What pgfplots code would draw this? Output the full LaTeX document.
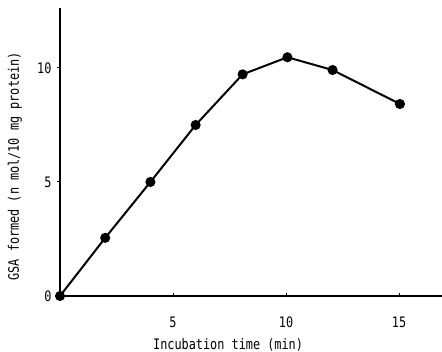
\documentclass[border=0pt]{standalone}
\usepackage{pgfplots}
\pgfplotsset{compat=1.18}
\usepackage{fontspec}
\setmainfont{DejaVu Sans Mono}[FakeStretch=0.82]
\begin{document}
\begin{tikzpicture}
\useasboundingbox (-60bp,-56bp) rectangle (382bp,288bp+8bp);
\begin{axis}[
  scale only axis,
  width=382bp, height=288bp,
  xmin=0, xmax=16.9, ymin=0, ymax=12.63,
  axis lines*=left,
  axis line style={line width=2bp},
  xtick={5,10,15}, ytick={0,5,10},
  x tick style={line width=1bp, black}, y tick style={line width=1bp, black},
  xtick align=inside, ytick align=outside,
  major tick length=3bp,
  tick label style={font=\fontsize{14.5}{16}\selectfont},
  /pgf/number format/assume math mode=true,
  xlabel={Incubation time (min)},
  ylabel={GSA formed (n mol/10 mg protein)},
  label style={font=\fontsize{14.5}{16}\selectfont},
  xlabel style={at={(axis description cs:0.44,0)}, anchor=center, yshift=-49bp},
  ylabel style={at={(axis description cs:-0.118,0.45)}, anchor=center},
  xticklabel style={yshift=-17bp},
  yticklabel style={xshift=-2bp},
  clip=false,
]
\addplot[black, line width=2bp, mark=*, mark size=4bp] coordinates {
  (0,0) (2,2.55) (4,5.0) (6,7.5) (8.08,9.72) (10.06,10.47) (12.06,9.91) (15.04,8.42)
};
\end{axis}
\end{tikzpicture}
\end{document}
